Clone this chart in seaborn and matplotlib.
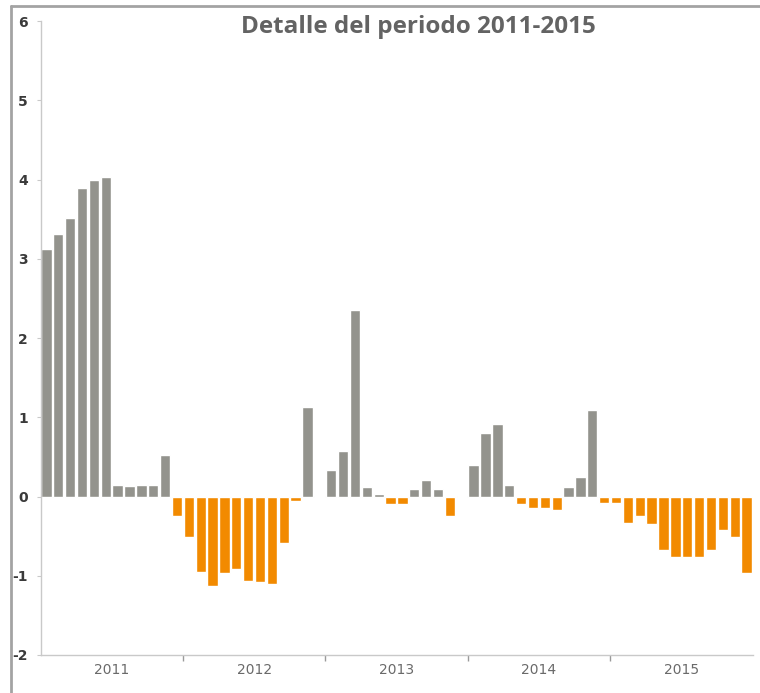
import numpy as np
import pandas as pd
import matplotlib
matplotlib.use("Agg")
import matplotlib.pyplot as plt
from matplotlib.lines import Line2D
import seaborn as sns

# Monthly values, 2011-2015
years = ["2011", "2012", "2013", "2014", "2015"]
v2011 = [3.12, 3.31, 3.51, 3.89, 3.99, 4.03, 0.15, 0.13, 0.15, 0.15, 0.52, -0.24]
v2012 = [-0.51, -0.95, -1.13, -0.97, -0.92, -1.07, -1.08, -1.11, -0.59, -0.06, 1.13, 0.01]
v2013 = [0.34, 0.57, 2.35, 0.12, 0.03, -0.09, -0.09, 0.10, 0.21, 0.10, -0.25, 0.01]
v2014 = [0.40, 0.80, 0.92, 0.14, -0.09, -0.14, -0.14, -0.17, 0.12, 0.24, 1.09, -0.08]
v2015 = [-0.08, -0.33, -0.25, -0.35, -0.68, -0.76, -0.76, -0.76, -0.68, -0.42, -0.51, -0.97]
y_ticks = [-2, -1, 0, 1, 2, 3, 4, 5, 6]

GRAY = "#93938d"
ORANGE = "#f28a00"

months = [f"{y}-{m:02d}" for y in years for m in range(1, 13)]
values = v2011 + v2012 + v2013 + v2014 + v2015
df = pd.DataFrame({"mes": months, "valor": values})
df["signo"] = np.where(df["valor"] >= 0, "pos", "neg")

sns.set_theme(style="white")
plt.rcParams["font.family"] = ["Liberation Sans Narrow", "DejaVu Sans"]

W, H = 760, 693
fig = plt.figure(figsize=(W / 100, H / 100), dpi=100)
fig.patch.set_facecolor("white")
ax = fig.add_axes([40.5 / W, (H - 655) / H, 712 / W, 634 / H])

sns.barplot(data=df, x="mes", y="valor", hue="signo",
            palette={"pos": GRAY, "neg": ORANGE}, dodge=False,
            width=0.87, saturation=1, errorbar=None, legend=False, ax=ax)

ax.set_xlim(-0.5, len(months) - 0.5)
ax.set_ylim(-2, 6)
ax.set_xlabel("")
ax.set_ylabel("")

for side in ("top", "right"):
    ax.spines[side].set_visible(False)
for side in ("left", "bottom"):
    ax.spines[side].set_color("#c9c9c9")
    ax.spines[side].set_linewidth(1.0)

ax.set_yticks(y_ticks)
ax.set_yticklabels([str(t) for t in y_ticks], fontweight="bold")
ax.tick_params(axis="y", which="major", left=True, length=3, width=0.8,
               color="#c9c9c9", pad=6, labelsize=10, labelcolor="#3a3a3a")

year_pos = [12 * i + 5.5 for i in range(len(years))]
sep_pos = [12 * i - 0.5 for i in range(1, len(years))]
ax.set_xticks(year_pos)
ax.set_xticklabels(years)
ax.set_xticks(sep_pos, minor=True)
ax.tick_params(axis="x", which="major", bottom=False, length=0, pad=6,
               labelsize=10, labelcolor="#6a6a6a")
ax.tick_params(axis="x", which="minor", bottom=True, length=4, width=1,
               color="#9a9a9a", direction="out")

fig.text(418 / W, (H - 27) / H, "Detalle del periodo 2011-2015",
         ha="center", va="center", fontsize=17.5, fontweight="bold",
         color="#636363", family=["Open Sans", "DejaVu Sans"])

# Outer frame: top and left rules
fig.add_artist(Line2D([11 / W, 1.0], [(H - 6) / H, (H - 6) / H],
                      transform=fig.transFigure, color="#a3a3a3", lw=2))
fig.add_artist(Line2D([11 / W, 11 / W], [0.0, (H - 6) / H],
                      transform=fig.transFigure, color="#a3a3a3", lw=2))

fig.savefig("out.png", dpi=100, facecolor="white")
